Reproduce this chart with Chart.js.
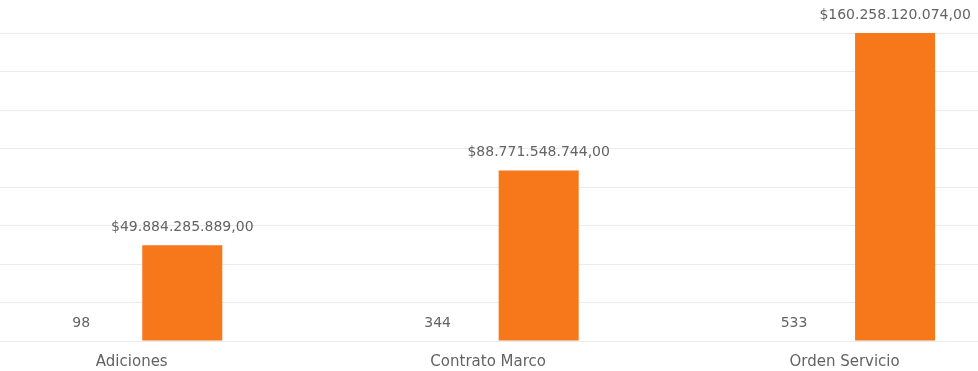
<!DOCTYPE html>
<html lang="es">
<head>
<meta charset="utf-8">
<title>Contratos por tipo</title>
<script src="https://cdn.jsdelivr.net/npm/chart.js@4.4.1/dist/chart.umd.min.js"></script>
<style>
  html, body { margin: 0; padding: 0; background: #fff; }
  #wrap { width: 978px; height: 371px; }
</style>
</head>
<body>
<div id="wrap"><canvas id="chartTipos" width="978" height="371"></canvas></div>
<script>
// ================================
//   DATI
// ================================
const tipos = ["Adiciones", "Contrato Marco", "Orden Servicio"];
const cantidad = [98, 344, 533];
const valorTotal = [49884285889.00, 88771548744.00, 160258120074.00];

const NARANJA = "#F7771B";
const TEXTO = "#636363";
const FUENTE = "DejaVu Sans";

// $49.884.285.889,00
function formatoPesos(v) {
  const [ent, dec] = v.toFixed(2).split(".");
  return "$" + ent.replace(/\B(?=(\d{3})+(?!\d))/g, ".") + "," + dec;
}

// ================================
//   ETIQUETAS SOBRE LAS BARRAS
// ================================
const etiquetas = {
  id: "etiquetas",
  afterDatasetsDraw(chart) {
    const ctx = chart.ctx;
    ctx.save();
    ctx.font = `14px "${FUENTE}"`;
    ctx.fillStyle = TEXTO;
    ctx.textAlign = "center";
    ctx.textBaseline = "middle";
    chart.data.datasets.forEach((ds, di) => {
      const meta = chart.getDatasetMeta(di);
      meta.data.forEach((bar, i) => {
        const v = ds.data[i].y;
        const txt = ds.formato === "pesos" ? formatoPesos(v) : String(v);
        ctx.fillText(txt, bar.x, bar.y - 18);
      });
    });
    ctx.restore();
  }
};

// ================================
//   GRAFICO
// ================================
function crearGrafico() {
  const ctx = document.getElementById("chartTipos");

  new Chart(ctx, {
    type: "bar",
    data: {
      datasets: [
        {
          label: "Cantidad",
          formato: "entero",
          data: cantidad.map((v, i) => ({ x: i, y: v })),
          backgroundColor: "rgba(0,0,0,0)"
        },
        {
          label: "Valor",
          formato: "pesos",
          data: valorTotal.map((v, i) => ({ x: i, y: v })),
          backgroundColor: NARANJA
        }
      ]
    },
    options: {
      responsive: false,
      animation: false,
      categoryPercentage: 0.567,
      barPercentage: 0.792,
      layout: { padding: { top: 33, bottom: -12, left: 0, right: 0 } },
      plugins: { legend: { display: false }, tooltip: { enabled: false } },
      scales: {
        x: {
          type: "linear",
          bounds: "data",
          offset: false,
          min: -0.3697,
          max: 2.3744,
          // una marca por tipo, en 0, 1 y 2
          afterBuildTicks: (scale) => {
            scale.ticks = tipos.map((_, i) => ({ value: i }));
          },
          grid: { display: false, drawTicks: false },
          border: { display: false },
          ticks: {
            padding: 12,
            color: TEXTO,
            font: { family: FUENTE, size: 15 },
            callback: (v) => tipos[v] ?? ""
          }
        },
        y: {
          min: 0,
          max: 160300000000,
          grid: { color: "#ebebeb", drawTicks: false },
          border: { display: false },
          ticks: { display: false, stepSize: 20000000000, includeBounds: false }
        }
      }
    },
    plugins: [etiquetas]
  });
}

crearGrafico();
</script>
</body>
</html>
